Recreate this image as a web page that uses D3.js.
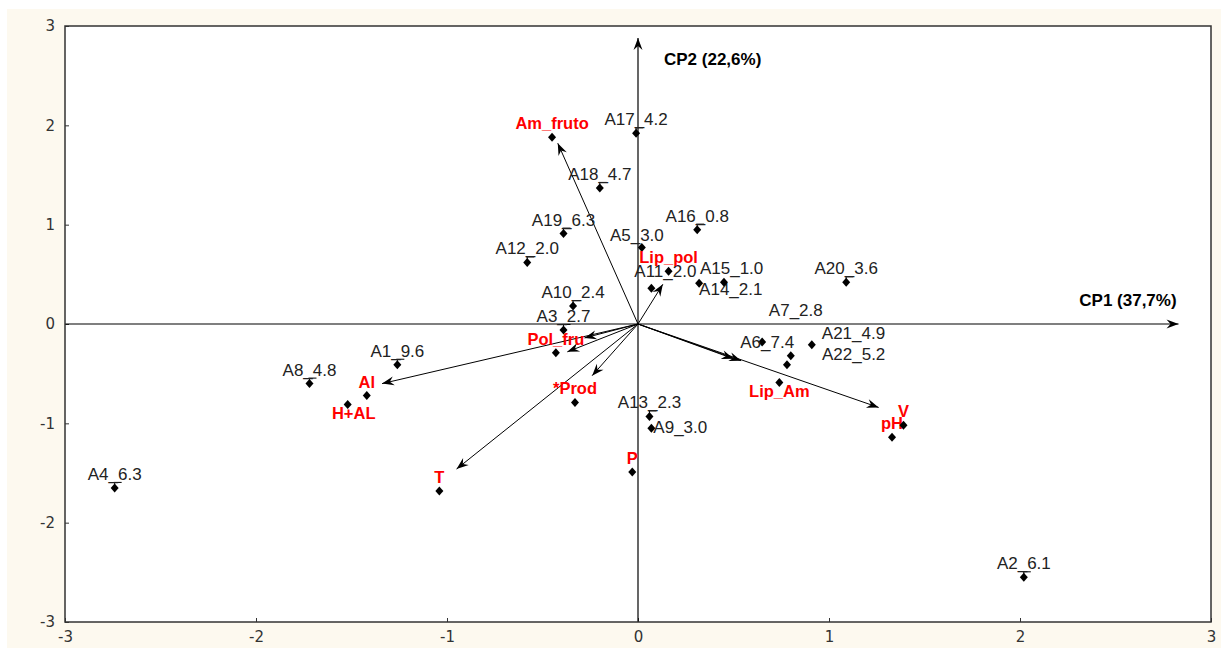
<!DOCTYPE html>
<html>
<head>
<meta charset="utf-8">
<script src="https://cdn.jsdelivr.net/npm/d3@7"></script>
<style>
  body { margin: 0; background: #fff; }
  svg { display: block; }
</style>
</head>
<body>
<div id="chart"></div>
<script>
// observations (scores on CP1 / CP2)
var obsNames = ["A1_9.6","A2_6.1","A3_2.7","A4_6.3","A5_3.0","A6_7.4","A7_2.8","A8_4.8",
                "A9_3.0","A10_2.4","A11_2.0","A12_2.0","A13_2.3","A14_2.1","A15_1.0",
                "A16_0.8","A17_4.2","A18_4.7","A19_6.3","A20_3.6","A21_4.9","A22_5.2"];
var obsCP1 = [-1.26, 2.02, -0.39, -2.74, 0.02, 0.65, 0.80, -1.72,
              0.07, -0.34, 0.07, -0.58, 0.06, 0.32, 0.45,
              0.31, -0.01, -0.20, -0.39, 1.09, 0.91, 0.78];
var obsCP2 = [-0.41, -2.55, -0.06, -1.65, 0.77, -0.18, -0.32, -0.60,
              -1.05, 0.18, 0.36, 0.62, -0.93, 0.41, 0.42,
              0.95, 1.92, 1.37, 0.91, 0.42, -0.21, -0.41];

// variables (projected points)
var varNames = ["Am_fruto","Lip_pol","Pol_fru","*Prod","P","T","Al","H+AL","Lip_Am","pH","V"];
var varCP1 = [-0.45, 0.16, -0.43, -0.33, -0.03, -1.04, -1.42, -1.52, 0.74, 1.33, 1.39];
var varCP2 = [1.88, 0.53, -0.29, -0.79, -1.49, -1.68, -0.72, -0.81, -0.59, -1.14, -1.02];

// loading arrows (tips)
var arrowCP1 = [-0.42, 0.13, -0.37, -0.28, -0.24, -0.95, -1.34, 0.54, 0.50, 1.26];
var arrowCP2 = [1.82, 0.40, -0.28, -0.14, -0.52, -1.46, -0.60, -0.37, -0.35, -0.84];

var tickValues = [-3, -2, -1, 0, 1, 2, 3];
var axisTitles = ["CP1 (37,7%)", "CP2 (22,6%)"];

// label nudges in px (dx, dy, anchor) where the default spot is not used
var nudge = {
  "A6_7.4": [5, 6, "middle"],
  "A7_2.8": [5, -40, "middle"],
  "A21_4.9": [10, -6, "start"],
  "A22_5.2": [35, -5, "start"],
  "A9_3.0": [2, 5, "start"],
  "A11_2.0": [14, -11, "middle"],
  "A14_2.1": [0, 12, "start"],
  "A15_1.0": [-24, -8, "start"],
  "A5_3.0": [-5, -7, "middle"],
  "H+AL": [6, 15, "middle"],
  "Lip_Am": [0, 14, "middle"]
};

var W = 1221, H = 648;
var margin = {top: 26, left: 65};
var width = 1211 - margin.left, height = 622 - margin.top;

var svg = d3.select("#chart").append("svg")
    .attr("width", W)
    .attr("height", H);

// cream page background
svg.append("rect")
    .attr("x", 7).attr("y", 9)
    .attr("width", W - 7).attr("height", H - 9)
    .attr("fill", "#fdf9ef");

var g = svg.append("g")
    .attr("transform", "translate(" + margin.left + "," + margin.top + ")");

g.append("rect")
    .attr("width", width).attr("height", height)
    .attr("fill", "#fff");

var x = d3.scaleLinear().domain([-3, 3]).range([0, width]);
var y = d3.scaleLinear().domain([-3, 3]).range([height, 0]);

// axes with small inner ticks
var fmt = function(d) { return String(d); };
var yAxis = g.append("g")
    .call(d3.axisLeft(y).tickValues(tickValues).tickFormat(fmt).tickSize(-4).tickPadding(10));
var xAxis = g.append("g")
    .attr("transform", "translate(0," + height + ")")
    .call(d3.axisBottom(x).tickValues(tickValues).tickFormat(fmt).tickSize(-4).tickPadding(9));
[xAxis, yAxis].forEach(function(a) {
  a.select(".domain").remove();
  a.selectAll("line").attr("stroke", "#333");
  a.selectAll("text")
    .attr("fill", "#333")
    .style("font-family", "DejaVu Sans")
    .style("font-size", "15px");
});

// arrowhead markers
var defs = svg.append("defs");
defs.append("marker")
    .attr("id", "head")
    .attr("markerUnits", "userSpaceOnUse")
    .attr("viewBox", "-13 -6 14 12")
    .attr("refX", 0).attr("refY", 0)
    .attr("markerWidth", 14).attr("markerHeight", 12)
    .attr("orient", "auto")
  .append("path")
    .attr("d", "M0,0 L-12,-4.5 L-8,0 L-12,4.5 Z")
    .attr("fill", "#000");

// center axes CP1 / CP2
g.append("line")
    .attr("x1", x(-3)).attr("y1", y(0))
    .attr("x2", x(2.83)).attr("y2", y(0))
    .attr("stroke", "#000").attr("stroke-width", 1.2)
    .attr("marker-end", "url(#head)");
g.append("line")
    .attr("x1", x(0)).attr("y1", y(-3))
    .attr("x2", x(0)).attr("y2", y(2.88))
    .attr("stroke", "#000").attr("stroke-width", 1.2)
    .attr("marker-end", "url(#head)");

g.append("text")
    .attr("x", x(2.82)).attr("y", y(0) - 18)
    .attr("text-anchor", "end")
    .style("font-family", "Liberation Sans, Arial")
    .style("font-size", "17px").style("font-weight", "bold")
    .text(axisTitles[0]);
g.append("text")
    .attr("x", x(0) + 26).attr("y", y(2.61))
    .style("font-family", "Liberation Sans, Arial")
    .style("font-size", "17px").style("font-weight", "bold")
    .text(axisTitles[1]);

// loading arrows
g.selectAll(".arrow")
  .data(arrowCP1)
  .enter().append("line")
    .attr("class", "arrow")
    .attr("x1", x(0)).attr("y1", y(0))
    .attr("x2", function(d) { return x(d); })
    .attr("y2", function(d, i) { return y(arrowCP2[i]); })
    .attr("stroke", "#000").attr("stroke-width", 1)
    .attr("marker-end", "url(#head)");

var diamond = "M0,-4.5 L4,0 L0,4.5 L-4,0 Z";

function drawPoints(names, cx, cy, color, weight, leader) {
  var pts = names.map(function(n, i) { return {name: n, x: cx[i], y: cy[i]}; });
  var sel = g.append("g").selectAll("g")
    .data(pts)
    .enter().append("g")
      .attr("transform", function(d) { return "translate(" + x(d.x) + "," + y(d.y) + ")"; });

  sel.append("path")
      .attr("d", diamond)
      .attr("fill", "#000");

  // small leader above the point
  if (leader) {
    sel.filter(function(d) { return !nudge[d.name]; })
      .append("path")
        .attr("d", "M-1,-5.5 H7 M0,-5.5 V-3")
        .attr("stroke", "#000").attr("stroke-width", 1).attr("fill", "none");
  }

  sel.append("text")
      .attr("x", function(d) { return nudge[d.name] ? nudge[d.name][0] : 0; })
      .attr("y", function(d) { return nudge[d.name] ? nudge[d.name][1] : -8; })
      .attr("text-anchor", function(d) { return nudge[d.name] ? nudge[d.name][2] : "middle"; })
      .attr("fill", color)
      .style("font-family", "Liberation Sans, Arial")
      .style("font-size", weight == "bold" ? "16.5px" : "17px")
      .style("font-weight", weight)
      .text(function(d) { return d.name; });
}

drawPoints(obsNames, obsCP1, obsCP2, "#222", "normal", true);
drawPoints(varNames, varCP1, varCP2, "#ff0000", "bold", false);

// plot frame
g.append("rect")
    .attr("width", width).attr("height", height)
    .attr("fill", "none")
    .attr("stroke", "#333").attr("stroke-width", 1.5);
</script>
</body>
</html>
